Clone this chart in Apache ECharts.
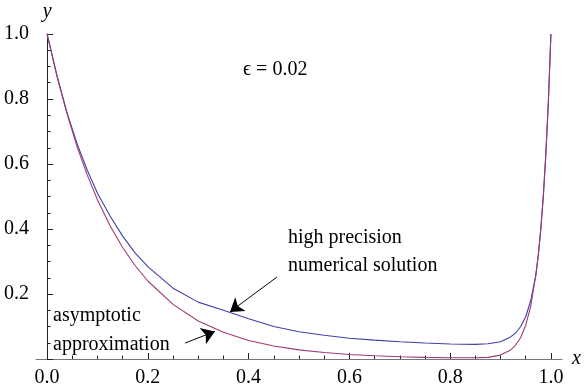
<!DOCTYPE html>
<html>
<head>
<meta charset="utf-8">
<script src="https://cdn.jsdelivr.net/npm/echarts@6/dist/echarts.min.js"></script>
<style>
  html, body { margin: 0; padding: 0; background: #fff; }
  #chart { width: 585px; height: 390px; }
</style>
</head>
<body>
<div id="chart"></div>
<script>
// x samples (denser near the boundary layer at x = 1)
var xs = [0, 0.02, 0.04, 0.06, 0.08, 0.1, 0.125, 0.15, 0.175, 0.2, 0.25, 0.3, 0.35, 0.4, 0.45, 0.5,
  0.55, 0.6, 0.65, 0.7, 0.75, 0.8, 0.85, 0.875, 0.9, 0.92, 0.93, 0.94, 0.95, 0.96, 0.97, 0.975,
  0.98, 0.985, 0.99, 0.995, 1.0];

// high precision numerical solution (blue)
var numerical = [1.0, 0.87, 0.756, 0.66, 0.58, 0.51, 0.44, 0.378, 0.326, 0.284, 0.218, 0.175, 0.15,
  0.124, 0.1, 0.084, 0.073, 0.064, 0.058, 0.053, 0.049, 0.046, 0.045, 0.047, 0.053, 0.068, 0.08,
  0.1, 0.13, 0.18, 0.258, 0.32, 0.4, 0.5, 0.63, 0.79, 1.0];

// asymptotic approximation (purple)
var asymptotic = [1.0, 0.867, 0.752, 0.651, 0.565, 0.49, 0.41, 0.343, 0.287, 0.24, 0.168, 0.117,
  0.082, 0.057, 0.04, 0.028, 0.02, 0.014, 0.01, 0.007, 0.005, 0.004, 0.004, 0.005, 0.012, 0.028,
  0.043, 0.066, 0.104, 0.163, 0.257, 0.321, 0.403, 0.506, 0.635, 0.797, 1.0];

var xMajor = [0, 0.2, 0.4, 0.6, 0.8, 1.0];
var xMinor = [0.05, 0.1, 0.15, 0.25, 0.3, 0.35, 0.45, 0.5, 0.55, 0.65, 0.7, 0.75, 0.85, 0.9, 0.95];

// annotation arrows, [from, to] in data coordinates
var arrowNumerical = [[0.456, 0.252], [0.363, 0.145]];
var arrowAsymptotic = [[0.274, 0.049], [0.333, 0.085]];

var serif = '"Liberation Serif", "Times New Roman", serif';

function pairs(vals) {
  return xs.map(function (x, i) { return [x, vals[i]]; });
}

var chart = echarts.init(document.getElementById('chart'));

var option = {
  animation: false,
  grid: { left: 36, right: 23, top: 34, bottom: 31, containLabel: false },
  xAxis: [{
    type: 'value',
    min: -0.022,
    max: 1.022,
    name: 'x',
    nameLocation: 'end',
    nameGap: 10,
    nameTextStyle: { fontFamily: serif, fontStyle: 'italic', fontSize: 20, color: '#000', verticalAlign: 'middle' },
    axisLine: { onZero: false, lineStyle: { color: '#777', width: 1 } },
    axisTick: { inside: true, length: 6, customValues: xMajor, lineStyle: { color: '#222' } },
    axisLabel: {
      customValues: xMajor,
      margin: 9,
      fontFamily: serif,
      fontSize: 20,
      color: '#000',
      formatter: function (v) { return v.toFixed(1); }
    },
    splitLine: { show: false }
  }, {
    type: 'value',
    min: -0.022,
    max: 1.022,
    position: 'bottom',
    axisLine: { show: false, onZero: false },
    axisTick: { inside: true, length: 3.5, customValues: xMinor, lineStyle: { color: '#222' } },
    axisLabel: { show: false },
    splitLine: { show: false }
  }],
  yAxis: {
    type: 'value',
    min: 0,
    max: 1,
    interval: 0.2,
    name: 'y',
    nameLocation: 'end',
    nameGap: 12,
    nameTextStyle: { fontFamily: serif, fontStyle: 'italic', fontSize: 20, color: '#000', align: 'center' },
    axisLine: { show: true, onZero: true, onZeroAxisIndex: 0, lineStyle: { color: '#222', width: 1 } },
    axisTick: { inside: true, length: 6, lineStyle: { color: '#222' } },
    minorTick: { show: true, splitNumber: 4, length: 3.5, lineStyle: { color: '#222' } },
    axisLabel: {
      margin: 7,
      fontFamily: serif,
      fontSize: 20,
      color: '#000',
      formatter: function (v) { return v === 0 ? '' : v.toFixed(1); }
    },
    splitLine: { show: false }
  },
  series: [{
    name: 'high precision numerical solution',
    type: 'line',
    data: pairs(numerical),
    showSymbol: false,
    smooth: false,
    lineStyle: { color: '#4040a8', width: 1.1 },
    markLine: {
      silent: true,
      symbol: ['none', 'arrow'],
      symbolSize: 13,
      label: { show: false },
      lineStyle: { color: '#000', width: 1, type: 'solid' },
      data: [
        [{ coord: arrowNumerical[0] }, { coord: arrowNumerical[1] }],
        [{ coord: arrowAsymptotic[0] }, { coord: arrowAsymptotic[1] }]
      ]
    }
  }, {
    name: 'asymptotic approximation',
    type: 'line',
    data: pairs(asymptotic),
    showSymbol: false,
    smooth: false,
    lineStyle: { color: '#a03a78', width: 1.1 }
  }],
  graphic: [
    { type: 'text', x: 243, y: 70, style: { text: 'ϵ = 0.02', font: '20px ' + serif, fill: '#000', verticalAlign: 'middle' } },
    { type: 'text', x: 288, y: 238, style: { text: 'high precision', font: '20px ' + serif, fill: '#000', verticalAlign: 'middle' } },
    { type: 'text', x: 288, y: 266, style: { text: 'numerical solution', font: '20px ' + serif, fill: '#000', verticalAlign: 'middle' } },
    { type: 'text', x: 53, y: 316, style: { text: 'asymptotic', font: '20px ' + serif, fill: '#000', verticalAlign: 'middle' } },
    { type: 'text', x: 53, y: 345, style: { text: 'approximation', font: '20px ' + serif, fill: '#000', verticalAlign: 'middle' } }
  ]
};

chart.setOption(option);
</script>
</body>
</html>
